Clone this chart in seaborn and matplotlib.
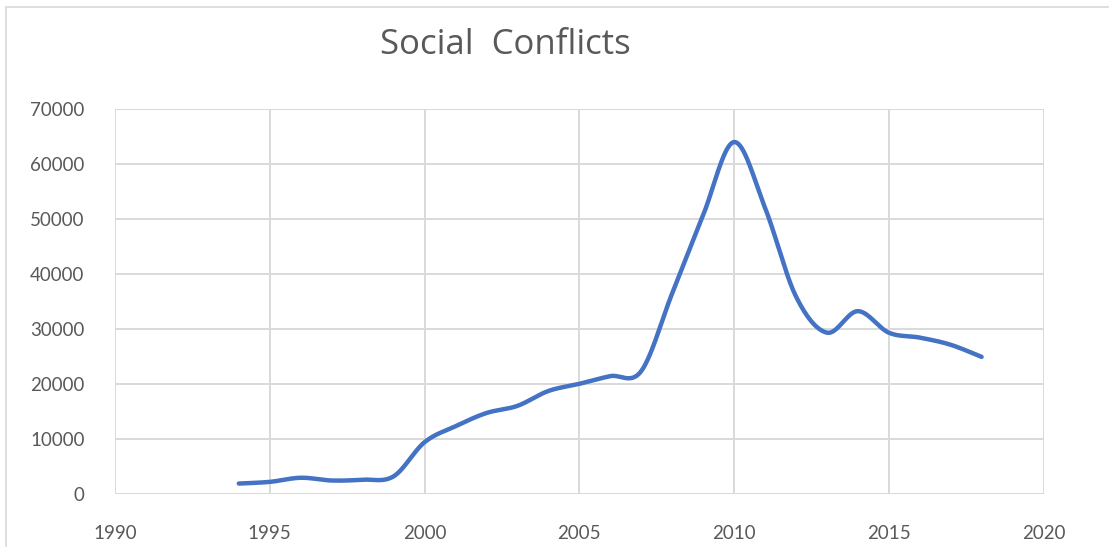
import numpy as np
import pandas as pd
import matplotlib
matplotlib.use("Agg")
import matplotlib.pyplot as plt
from matplotlib.lines import Line2D
import seaborn as sns

years = list(range(1994, 2019))
conflicts = [1900, 2200, 2950, 2450, 2600, 3200, 9400, 12300, 14700, 16000,
             18700, 20000, 21400, 22300, 36400, 50600, 63900, 52000, 35900,
             29300, 33200, 29300, 28400, 27100, 24900]
x_ticks = [1990, 1995, 2000, 2005, 2010, 2015, 2020]
y_ticks = [0, 10000, 20000, 30000, 40000, 50000, 60000, 70000]

# Excel-style smoothed line (Catmull-Rom bezier between the yearly points)
def smooth(xs, ys, n=40):
    p = np.column_stack([xs, ys]).astype(float)
    p = np.vstack([p[0], p, p[-1]])
    out = []
    for i in range(1, len(p) - 2):
        p0, p1, p2, p3 = p[i - 1], p[i], p[i + 1], p[i + 2]
        c1 = p1 + (p2 - p0) / 6
        c2 = p2 - (p3 - p1) / 6
        t = np.linspace(0, 1, n)[:, None]
        seg = ((1 - t) ** 3) * p1 + 3 * ((1 - t) ** 2) * t * c1 + 3 * (1 - t) * t ** 2 * c2 + t ** 3 * p2
        out.append(seg if i == 1 else seg[1:])
    return np.vstack(out)

curve = smooth(years, conflicts)
df = pd.DataFrame({"year": curve[:, 0], "value": curve[:, 1]})

sns.set_style("white")
plt.rcParams['font.family'] = ['Lato', 'DejaVu Sans']

fig = plt.figure(figsize=(11.09, 5.47), dpi=100)
W, H = 1109, 547
ax = fig.add_axes([115 / W, (H - 494) / H, (1043.5 - 115) / W, (494 - 108.5) / H])

sns.lineplot(data=df, x="year", y="value", ax=ax, color="#4472C4", linewidth=3.2,
             sort=False, estimator=None, solid_capstyle="round")

ax.set_xlim(1990, 2020)
ax.set_ylim(0, 70000)
ax.set_xticks(x_ticks)
ax.set_yticks(y_ticks)
ax.grid(True, color="#d9d9d9", linewidth=1.4)
ax.set_axisbelow(True)
for s in ax.spines.values():
    s.set_visible(False)
ax.tick_params(axis="both", length=0, labelsize=13.5, colors="#595959")
ax.tick_params(axis="y", pad=22)
ax.tick_params(axis="x", pad=22)
ax.set_xlabel("")
ax.set_ylabel("")

fig.text(505 / W, 1 - 45 / H, "Social  Conflicts", ha="center", va="center",
         fontsize=25, color="#595959", family=["Open Sans", "DejaVu Sans"])

# chart border
fig.add_artist(Line2D([6 / W, 6 / W], [0, 1 - 7 / H], transform=fig.transFigure,
                      color="#d9d9d9", linewidth=1.2))
fig.add_artist(Line2D([6 / W, 1], [1 - 7 / H, 1 - 7 / H], transform=fig.transFigure,
                      color="#d9d9d9", linewidth=1.2))

fig.savefig("out.png", dpi=100)
